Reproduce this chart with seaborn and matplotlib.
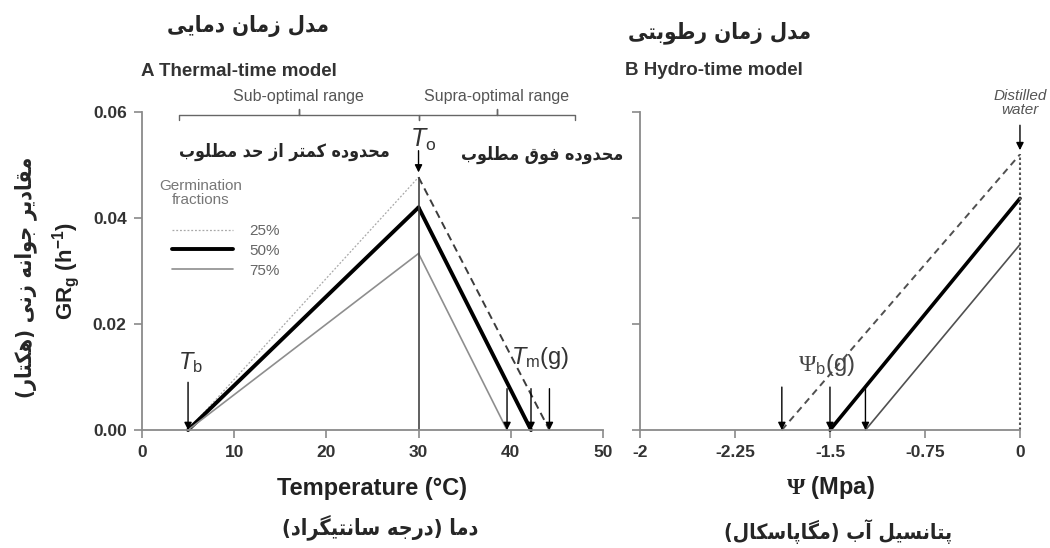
import numpy as np
import pandas as pd
import matplotlib
matplotlib.use('Agg')
import matplotlib.pyplot as plt
import seaborn as sns

# ---- data ----
fractions = ['25%', '50%', '75%']
t_base = [5.0, 5.0, 5.0]            # base temperature (°C)
t_opt = 30.0                         # optimum temperature
gr_opt = [0.0477, 0.0420, 0.0333]    # GR at T_o
t_max = [44.2, 42.2, 39.6]           # ceiling temperature T_m(g)
psi_base = [-1.88, -1.50, -1.22]     # base water potential
gr_water = [0.0520, 0.0437, 0.0350]  # GR in distilled water (psi = 0)

temp_ticks = [0, 10, 20, 30, 40, 50]
psi_ticks = [-3, -2.25, -1.5, -0.75, 0]
psi_tick_labels = ['-2', '-2.25', '-1.5', '-0.75', '0']
gr_ticks = [0.0, 0.02, 0.04, 0.06]
range_edges = [4.0, t_opt, 47.0]

# ---- simple persian shaping (matplotlib does no arabic shaping) ----
_DUAL = {'ب': 0xFE8F, 'ت': 0xFE95, 'ث': 0xFE99, 'ج': 0xFE9D, 'ح': 0xFEA1, 'خ': 0xFEA5,
         'س': 0xFEB1, 'ش': 0xFEB5, 'ص': 0xFEB9, 'ض': 0xFEBD, 'ط': 0xFEC1, 'ظ': 0xFEC5,
         'ع': 0xFEC9, 'غ': 0xFECD, 'ف': 0xFED1, 'ق': 0xFED5, 'ل': 0xFEDD, 'م': 0xFEE1,
         'ن': 0xFEE5, 'ه': 0xFEE9, 'پ': 0xFB56, 'چ': 0xFB7A, 'ک': 0xFB8E, 'گ': 0xFB92,
         'ی': 0xFBFC}
_RIGHT = {'ا': 0xFE8D, 'آ': 0xFE81, 'د': 0xFEA9, 'ذ': 0xFEAB, 'ر': 0xFEAD, 'ز': 0xFEAF,
          'ژ': 0xFB8A, 'و': 0xFEED}
_MIRROR = {'(': ')', ')': '('}


def fa(s):
    out = []
    for i, ch in enumerate(s):
        base = _DUAL.get(ch, _RIGHT.get(ch))
        if base is None:
            out.append(_MIRROR.get(ch, ch))
            continue
        prev = s[i - 1] if i > 0 else ''
        nxt = s[i + 1] if i + 1 < len(s) else ''
        jp = prev in _DUAL
        jn = ch in _DUAL and (nxt in _DUAL or nxt in _RIGHT)
        out.append(chr(base + {(False, False): 0, (True, False): 1,
                               (False, True): 2, (True, True): 3}[(jp, jn)]))
    return ''.join(reversed(out))


# ---- tables ----
rows = []
for f, tb, g, tm in zip(fractions, t_base, gr_opt, t_max):
    rows += [(f, 'sub', tb, 0.0), (f, 'sub', t_opt, g),
             (f, 'supra', t_opt, g), (f, 'supra', tm, 0.0)]
thermal = pd.DataFrame(rows, columns=['fraction', 'side', 'temp', 'gr'])

rows = []
for f, pb, g in zip(fractions, psi_base, gr_water):
    rows += [(f, pb, 0.0), (f, 0.0, g)]
hydro = pd.DataFrame(rows, columns=['fraction', 'psi', 'gr'])

sns.set_theme(style='ticks')
plt.rcParams['font.family'] = ['Liberation Sans', 'DejaVu Sans']
plt.rcParams['mathtext.fontset'] = 'custom'
plt.rcParams['mathtext.rm'] = 'Liberation Sans'
plt.rcParams['mathtext.it'] = 'Liberation Sans:italic'
plt.rcParams['mathtext.bf'] = 'Liberation Serif:bold'
plt.rcParams['mathtext.sf'] = 'Liberation Sans:bold'
plt.rcParams['mathtext.cal'] = 'Liberation Serif'

sub_style = {'25%': dict(color='#a8a8a8', linewidth=0.9, linestyle=(0, (1.5, 1.5))),
             '50%': dict(color='black', linewidth=2.8, linestyle='-'),
             '75%': dict(color='#8e8e8e', linewidth=1.2, linestyle='-')}
supra_style = {'25%': dict(color='#3c3c3c', linewidth=1.4, linestyle=(0, (4, 2.5))),
               '50%': dict(color='black', linewidth=2.8, linestyle='-'),
               '75%': dict(color='#8e8e8e', linewidth=1.2, linestyle='-')}
hydro_style = {'25%': dict(color='#505050', linewidth=1.4, linestyle=(0, (3.5, 2.5))),
               '50%': dict(color='black', linewidth=2.6, linestyle='-'),
               '75%': dict(color='#505050', linewidth=1.2, linestyle='-')}

fig = plt.figure(figsize=(10.5, 5.48), dpi=100)
ax1 = fig.add_axes([0.1352, 0.2153, 0.439, 0.5803])
ax2 = fig.add_axes([0.6095, 0.2153, 0.3619, 0.5803])

spine_c = '#8a8a8a'
tick_c = '#333333'
arrow = dict(arrowstyle='-|>', color='black', lw=1.0, mutation_scale=11, shrinkA=0, shrinkB=0)
persian = ['DejaVu Sans']

# ---- A: thermal time ----
for f in fractions:
    d = thermal[thermal.fraction == f]
    sns.lineplot(data=d[d.side == 'sub'], x='temp', y='gr', ax=ax1, label=f,
                 clip_on=False, **sub_style[f])
    sns.lineplot(data=d[d.side == 'supra'], x='temp', y='gr', ax=ax1, label='_nolegend_',
                 clip_on=False, **supra_style[f])
ax1.vlines(t_opt, 0, max(gr_opt), color='#444444', lw=1.2)

ax1.set_xlim(0, 50)
ax1.set_ylim(0, 0.06)
ax1.set_xticks(temp_ticks)
ax1.set_yticks(gr_ticks)
ax1.set_yticklabels([f'{v:.2f}' for v in gr_ticks])
ax1.set_xlabel('Temperature (°C)', fontsize=17, fontweight='bold', color='#222222', labelpad=12)
ax1.set_ylabel(r'GR$_\mathsf{g}$ (h$^{\mathsf{-1}}$)', fontsize=16, fontweight='bold',
               color='#222222', labelpad=8)

leg = ax1.legend(loc='upper left', bbox_to_anchor=(0.048, 0.672),
                 frameon=False, fontsize=11, handlelength=4.0,
                 handletextpad=1.1, labelspacing=0.38, borderpad=0)
for t in leg.get_texts():
    t.set_color('#666666')
ax1.text(0.128, 0.745, 'Germination\nfractions', transform=ax1.transAxes, fontsize=11,
         color='#777777', ha='center', va='center', linespacing=1.05)

# annotations
ax1.annotate('', xy=(t_base[1], 0), xytext=(t_base[1], 0.009), arrowprops=arrow)
ax1.text(t_base[1] + 0.3, 0.0128, r'$T_{\rm b}$', fontsize=17, color='#333333', ha='center', va='center')
for tm in t_max:
    ax1.annotate('', xy=(tm, 0), xytext=(tm, 0.0078), arrowprops=arrow, annotation_clip=False)
ax1.text(43.2, 0.0136, r'$T_{\rm m}$(g)', fontsize=17, color='#333333', ha='center', va='center')
ax1.annotate('', xy=(t_opt, max(gr_opt) + 0.0009), xytext=(t_opt, max(gr_opt) + 0.0050),
             arrowprops=arrow, annotation_clip=False)
ax1.text(t_opt + 0.5, 0.0548, r'$T_{\rm o}$', fontsize=18, color='#333333', ha='center', va='center')

# range brackets
trans = ax1.get_xaxis_transform()
yb, dd = 0.991, 0.017
x0, xm, x1 = range_edges
for a, b in [(x0, xm), (xm, x1)]:
    mid = (a + b) / 2
    ax1.plot([a, a, mid, mid, mid, b, b], [yb - dd, yb, yb, yb + dd, yb, yb, yb - dd],
             transform=trans, color='#666666', lw=1.0, clip_on=False)
ax1.text((x0 + xm) / 2, 1.05, 'Sub-optimal range', transform=trans, ha='center', va='center',
         fontsize=11.5, color='#555555')
ax1.text((xm + x1) / 2, 1.05, 'Supra-optimal range', transform=trans, ha='center', va='center',
         fontsize=11.5, color='#555555')

# ---- B: hydro time ----
for f in fractions:
    sns.lineplot(data=hydro[hydro.fraction == f], x='psi', y='gr', ax=ax2, legend=False,
                 clip_on=False, **hydro_style[f])
ax2.vlines(0, 0, max(gr_water), color='#555555', lw=1.5, linestyles=(0, (1.2, 1.2)), clip_on=False)
ax2.set_xlim(-3, 0)
ax2.set_ylim(0, 0.06)
ax2.set_xticks(psi_ticks)
ax2.set_xticklabels(psi_tick_labels)
ax2.set_yticks(gr_ticks)
ax2.set_yticklabels([])
ax2.set_ylabel('')
ax2.set_xlabel(r'$\mathbf{\Psi}$ (Mpa)', fontsize=17, fontweight='bold', color='#222222', labelpad=10)
for pb in psi_base:
    ax2.annotate('', xy=(pb, 0), xytext=(pb, 0.0081), arrowprops=arrow, annotation_clip=False)
ax2.text(-1.53, 0.0122, r'$\mathcal{\Psi}_{\rm b}$(g)', fontsize=17, color='#444444',
         ha='center', va='center')
ax2.annotate('', xy=(0, max(gr_water) + 0.0008), xytext=(0, max(gr_water) + 0.0055),
             arrowprops=arrow, annotation_clip=False)
ax2.text(0, 0.0617, 'Distilled\nwater', fontsize=11, style='italic', color='#555555',
         ha='center', va='center', linespacing=1.0)

for ax in (ax1, ax2):
    sns.despine(ax=ax)
    for s in ('left', 'bottom'):
        ax.spines[s].set_color(spine_c)
        ax.spines[s].set_linewidth(1.3)
    ax.tick_params(direction='out', length=6, width=1.2, color=spine_c,
                   labelsize=12.5, labelcolor=tick_c, pad=5)
    for lbl in ax.get_xticklabels() + ax.get_yticklabels():
        lbl.set_fontweight('bold')
    ax.set_facecolor('white')

# ---- titles and persian texts ----
fig.text(0.134, 0.869, 'A Thermal-time model', fontsize=13.5, fontweight='bold', color='#333333',
         ha='left', va='center')
fig.text(0.595, 0.872, 'B Hydro-time model', fontsize=13.5, fontweight='bold', color='#333333',
         ha='left', va='center')
fa_kw = dict(fontweight='bold', family=persian, fontstretch='condensed', ha='center', va='center')
fig.text(0.236, 0.952, fa('مدل زمان دمایی'), fontsize=16, **fa_kw)
fig.text(0.685, 0.941, fa('مدل زمان رطوبتی'), fontsize=16, **fa_kw)
fig.text(0.271, 0.722, fa('محدوده کمتر از حد مطلوب'), fontsize=12.8, **fa_kw)
fig.text(0.516, 0.717, fa('محدوده فوق مطلوب'), fontsize=12.8, **fa_kw)
fig.text(0.024, 0.493, fa('مقادیر جوانه زنی (هکتار)'), fontsize=15.5, rotation=90, **fa_kw)
fig.text(0.362, 0.038, fa('دما (درجه سانتیگراد)'), fontsize=15.5, **fa_kw)
fig.text(0.798, 0.030, fa('پتانسیل آب (مگاپاسکال)'), fontsize=15.2, **fa_kw)

fig.savefig('out.png', dpi=100, facecolor='white')
